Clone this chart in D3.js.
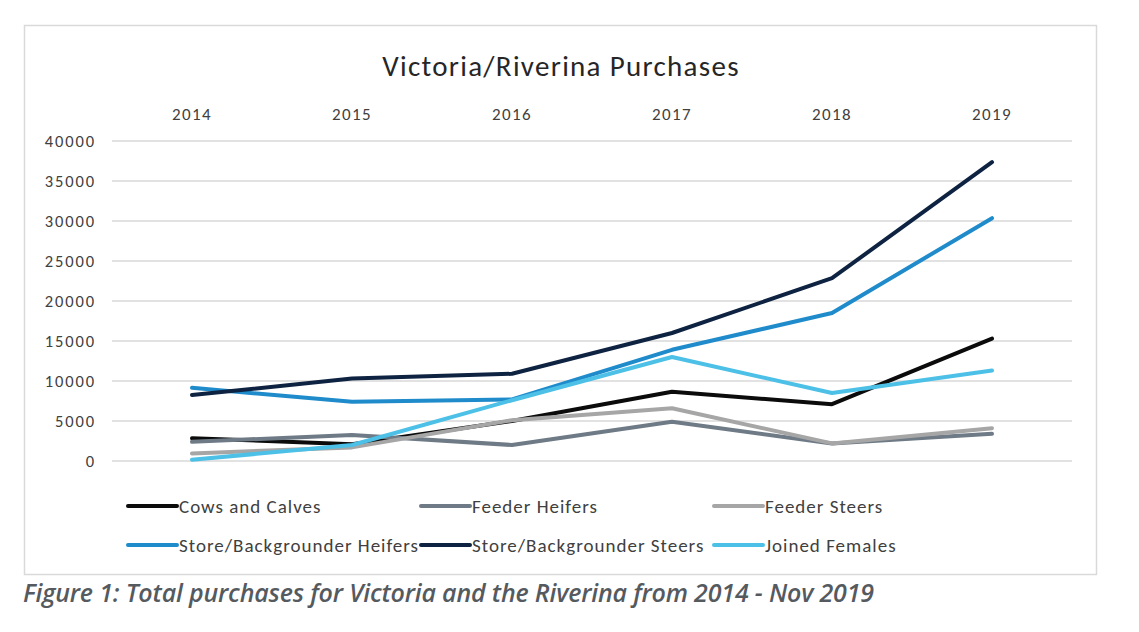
<!DOCTYPE html>
<html><head><meta charset="utf-8">
<script src="https://cdn.jsdelivr.net/npm/d3@7"></script>
<style>
body{margin:0;background:#fff;}
svg{display:block;}
</style></head>
<body>
<svg id="chart" width="1139" height="632"></svg>
<script>
const years = ["2014","2015","2016","2017","2018","2019"];
const yTicks = [0,5000,10000,15000,20000,25000,30000,35000,40000];
const seriesNames = ["Cows and Calves","Feeder Heifers","Feeder Steers","Store/Backgrounder Heifers","Store/Backgrounder Steers","Joined Females"];
const cowsAndCalves = [2850, 2100, 5000, 8650, 7100, 15300];
const feederHeifers = [2400, 3250, 2000, 4900, 2200, 3400];
const feederSteers = [950, 1700, 5100, 6600, 2200, 4100];
const storeHeifers = [9150, 7400, 7700, 13900, 18500, 30350];
const storeSteers = [8250, 10300, 10900, 16000, 22850, 37350];
const joinedFemales = [150, 2000, 7600, 13000, 8500, 11300];
const seriesValues = [cowsAndCalves, feederHeifers, feederSteers, storeHeifers, storeSteers, joinedFemales];
const colors = ["#0b0b0b","#6e7a86","#a6a6a6","#1f8bcb","#0e2341","#4cc0e6"];
const title = "Victoria/Riverina Purchases";
const caption = "Figure 1: Total purchases for Victoria and the Riverina from 2014 - Nov 2019";

const svg = d3.select("#chart");
const font = "Carlito, Calibri, Lato, sans-serif";

// frame
svg.append("rect").attr("x",24.5).attr("y",25.5).attr("width",1072).attr("height",549)
  .attr("fill","#fff").attr("stroke","#d9d9d9").attr("stroke-width",1.5);

const x = d3.scaleBand().domain(years).range([112,1072]);
const y = d3.scaleLinear().domain([0,40000]).range([461,141]);

// gridlines
svg.append("g").selectAll("line").data(yTicks).join("line")
  .attr("x1",112).attr("x2",1072)
  .attr("y1",d=>y(d)).attr("y2",d=>y(d))
  .attr("stroke","#d9d9d9").attr("stroke-width",1.5);

// y axis
const yAxis = d3.axisLeft(y).tickValues(yTicks).tickSize(0).tickPadding(0).tickFormat(d3.format("d"));
const gy = svg.append("g").attr("transform","translate(96,0)").call(yAxis);
gy.select(".domain").remove();
gy.selectAll("text").attr("font-family",font).attr("font-size",16.5).attr("letter-spacing",1.9).attr("fill","#404040");

// x axis top
const xAxis = d3.axisTop(x).tickSize(0).tickPadding(0);
const gx = svg.append("g").attr("transform","translate(0,120)").call(xAxis);
gx.select(".domain").remove();
gx.selectAll("text").attr("font-family",font).attr("font-size",17).attr("letter-spacing",1.4).attr("fill","#404040");

// title
svg.append("text").attr("x",561).attr("y",76).attr("text-anchor","middle")
  .attr("font-family",font).attr("font-size",29).attr("letter-spacing",1.3).attr("fill","#262626").text(title);

// lines
const line = d3.line().x((d,i)=>x(years[i])+x.bandwidth()/2).y(d=>y(d));
svg.append("g").selectAll("path").data(seriesValues).join("path")
  .attr("d",d=>line(d)).attr("fill","none")
  .attr("stroke",(d,i)=>colors[i]).attr("stroke-width",4)
  .attr("stroke-linejoin","round").attr("stroke-linecap","round");

// legend
const legendPos = [[128,506],[421,506],[714,506],[128,545],[421,545],[714,545]];
const lg = svg.append("g").selectAll("g").data(seriesNames).join("g")
  .attr("transform",(d,i)=>`translate(${legendPos[i][0]},${legendPos[i][1]})`);
lg.append("line").attr("x1",0).attr("x2",49).attr("y1",0).attr("y2",0)
  .attr("stroke",(d,i)=>colors[i]).attr("stroke-width",4).attr("stroke-linecap","round");
lg.append("text").attr("x",51).attr("y",7).attr("font-family",font).attr("font-size",19)
  .attr("letter-spacing",1.0).attr("fill","#404040").text(d=>d);

// caption
svg.append("text").attr("x",23).attr("y",602).attr("font-family","'Open Sans', sans-serif")
  .attr("font-style","italic").attr("font-weight",600).attr("font-size",25).attr("letter-spacing",-0.17)
  .attr("fill","#555a5f").text(caption);
</script>
</body></html>
